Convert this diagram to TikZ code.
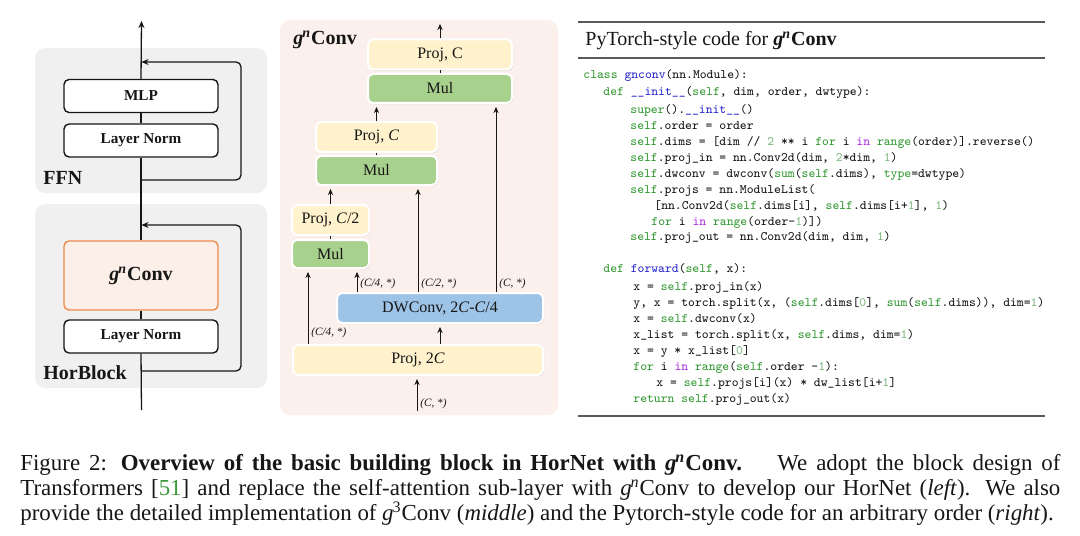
\documentclass[tikz,border=0pt]{standalone}
\usepackage{fontspec}
\setmainfont{Liberation Serif}
\usetikzlibrary{arrows.meta,positioning,calc,shadows}
\definecolor{ink}{HTML}{161616}
\definecolor{blockgray}{HTML}{F0F0F0}
\definecolor{convorange}{HTML}{EE8A4C}
\definecolor{convfill}{HTML}{FCEFE8}
\definecolor{panelpink}{HTML}{FBF0EB}
\definecolor{projyellow}{HTML}{FFF2CC}
\definecolor{mulgreen}{HTML}{A9D18E}
\definecolor{dwblue}{HTML}{9DC3E6}
\definecolor{rulegray}{HTML}{5A5A5A}
\definecolor{pykey}{HTML}{339933}
\definecolor{pyfunc}{HTML}{2A2ACC}
\definecolor{pyin}{HTML}{B030E0}
\definecolor{pynum}{HTML}{7FB87F}
\definecolor{citegreen}{HTML}{3C9A3C}
\newcommand{\gnconv}{\textit{g}\kern-0.05em\textsuperscript{\textit{n}}Conv}
\newcommand{\codekw}[1]{\textcolor{pykey}{#1}}
\newcommand{\codefn}[1]{\textcolor{pyfunc}{#1}}
\newcommand{\codein}[1]{\textcolor{pyin}{#1}}
\newcommand{\codenum}[1]{\textcolor{pynum}{#1}}

\begin{document}
\begin{tikzpicture}[
    x=0.5pt, y=-0.5pt,
    every node/.style={text=ink},
    blockbg/.style={fill=blockgray, rounded corners=5pt},
    layerbox/.style={draw=ink, fill=white, line width=0.7pt, rounded corners=2.5pt,
      minimum width=77pt, minimum height=16.5pt, inner sep=0pt,
      font=\fontsize{7.6}{9}\selectfont\bfseries},
    mainline/.style={draw=ink, line width=0.65pt},
    mainarrow/.style={mainline, -{Stealth[length=3.5pt,width=3pt]}},
    residual/.style={mainarrow, rounded corners=2.5pt},
    blocklabel/.style={anchor=west, inner sep=0pt, font=\fontsize{10}{12}\selectfont\bfseries},
    opbox/.style={draw=white, line width=1pt, rounded corners=2.5pt, inner sep=0pt,
      minimum height=15pt, font=\fontsize{8}{10}\selectfont,
      drop shadow={shadow xshift=0.5pt, shadow yshift=-0.6pt, opacity=0.3}},
    projbox/.style={opbox, fill=projyellow},
    mulbox/.style={opbox, fill=mulgreen},
    dwbox/.style={opbox, fill=dwblue},
    parrow/.style={draw=ink, line width=0.5pt, -{Stealth[length=3pt,width=2.6pt]}, shorten >=1.5pt},
    plink/.style={draw=ink, line width=0.5pt},
    shapelabel/.style={anchor=west, inner sep=0pt, font=\fontsize{5.6}{7}\selectfont\itshape},
    codeline/.style={anchor=west, inner sep=0pt, text height=4.6pt, text depth=1.3pt,
      font=\fontsize{6.45}{8}\selectfont\ttfamily},
    rule/.style={draw=rulegray},
    capline/.style={anchor=west, inner sep=0pt, font=\fontsize{11.45}{12.5}\selectfont}
  ]
  \useasboundingbox (0,0) rectangle (1080,535);

  % left: HorBlock
  \fill[blockbg] (35,48) rectangle (267,193);
  \fill[blockbg] (35,204) rectangle (267,388);
  \node[layerbox] (mlp) at (141,96) {MLP};
  \node[layerbox] (lnffn) at (141,140.5) {Layer Norm};
  \node[layerbox, draw=convorange, fill=convfill, minimum height=34.5pt,
    font=\fontsize{10}{12}\selectfont\bfseries] (gnc) at (141,275.5) {\gnconv};
  \node[layerbox] (lnhb) at (141,336.5) {Layer Norm};
  \node[blocklabel] (ffnlbl) at (43,178) {FFN};
  \node[blocklabel] (hblbl) at (43,373) {HorBlock};
  \coordinate (hbin) at (141.5,410);
  \coordinate (hbout) at (141.5,21);
  \coordinate (hbsplit) at (141.5,371);
  \coordinate (hbjoin) at (141.5,225);
  \coordinate (ffnsplit) at (141.5,180);
  \coordinate (ffnjoin) at (141.5,62);
  \draw[mainline] (hbin) -- (lnhb.south);
  \draw[mainline] (lnhb) -- (gnc);
  \draw[mainline] (gnc.north) -- (lnffn.south);
  \draw[mainline] (lnffn) -- (mlp);
  \draw[mainarrow] (mlp.north) -- (hbout);
  \draw[residual] (hbsplit) -- ++(99.5,0) |- (hbjoin);
  \draw[residual] (ffnsplit) -- ++(99.5,0) |- (ffnjoin);

  % middle: gnConv
  \fill[fill=panelpink, rounded corners=5pt] (280,20) rectangle (558,415);
  \node[blocklabel] (gnlbl) at (293,40) {\gnconv};
  \node[projbox, minimum width=72pt] (projc3) at (440,54.5) {Proj, C};
  \node[mulbox, minimum width=72pt, minimum height=14.5pt] (mul3) at (440,88.5) {Mul};
  \node[projbox, minimum width=60.5pt] (projc2) at (376.5,137) {Proj, \textit{C}};
  \node[mulbox, minimum width=60.5pt, minimum height=14.5pt] (mul2) at (376.5,170.5) {Mul};
  \node[projbox, minimum width=38.5pt] (projc1) at (330.5,220) {Proj, \textit{C}/2};
  \node[mulbox, minimum width=38.5pt, minimum height=14pt] (mul1) at (330.5,254) {Mul};
  \node[dwbox, minimum width=103pt] (dw) at (440,308) {DWConv, 2\textit{C}-\textit{C}/4};
  \node[projbox, minimum width=125pt] (pin) at (418,360) {Proj, 2\textit{C}};
  \coordinate (gin) at (417,411);
  \coordinate (gout) at (440,21);
  \coordinate (xa) at (308,0);
  \coordinate (xb) at (357,0);
  \coordinate (xc) at (418,0);
  \coordinate (xd) at (496,0);
  \draw[parrow] (gin) -- (gin |- pin.south);
  \draw[parrow] (pin.north -| dw) -- (dw.south);
  \draw[parrow] (pin.north -| xa) -- (mul1.south -| xa);
  \draw[parrow] (dw.north -| xb) -- (mul1.south -| xb);
  \draw[parrow] (dw.north -| xc) -- (mul2.south -| xc);
  \draw[parrow] (dw.north -| xd) -- (mul3.south -| xd);
  \draw[parrow] (projc1.north) -- (projc1.north |- mul2.south);
  \draw[parrow] (projc2.north) -- (projc2.north |- mul3.south);
  \draw[parrow] (projc3.north) -- (gout);
  \draw[plink] (mul1.north) -- (projc1.south);
  \draw[plink] (mul2.north) -- (projc2.south);
  \draw[plink] (mul3.north) -- (projc3.south);
  \node[shapelabel] (lblin) at (420,404) {(C, *)};
  \node[shapelabel] (lbla) at (311,333) {(C/4, *)};
  \node[shapelabel] (lblb) at (360,284) {(C/4, *)};
  \node[shapelabel] (lblc) at (421,284) {(C/2, *)};
  \node[shapelabel] (lbld) at (499,284) {(C, *)};

  % right: code
  \draw[rule, line width=0.8pt] (578,22) -- (1045,22);
  \draw[rule, line width=0.6pt] (578,58) -- (1045,58);
  \draw[rule, line width=0.8pt] (578,416) -- (1045,416);
  \node[anchor=west, inner sep=0pt, font=\fontsize{10}{12}\selectfont] (codetitle) at (585,41)
    {PyTorch-style code for \textbf{\gnconv}};
  \node[codeline] (c1) at (583,75) {\codekw{class} \codefn{gnconv}(nn.Module):};
  \node[codeline] (c2) at (603,92) {\codekw{def} \codefn{\_\_init\_\_}(\codekw{self}, dim, order, dwtype):};
  \node[codeline] (c3) at (630,110) {\codekw{super}().\codefn{\_\_init\_\_}()};
  \node[codeline] (c4) at (630,126) {\codekw{self}.order = order};
  \node[codeline] (c5) at (630,142) {\codekw{self}.dims = [dim // \codenum{2} ** i \codekw{for} i \codein{in} \codekw{range}(order)].reverse()};
  \node[codeline] (c6) at (630,158) {\codekw{self}.proj\_in = nn.Conv2d(dim, \codenum{2}*dim, \codenum{1})};
  \node[codeline] (c7) at (630,174) {\codekw{self}.dwconv = dwconv(\codekw{sum}(\codekw{self}.dims), \codekw{type}=dwtype)};
  \node[codeline] (c8) at (630,190) {\codekw{self}.projs = nn.ModuleList(};
  \node[codeline] (c9) at (654,206) {[nn.Conv2d(\codekw{self}.dims[i], \codekw{self}.dims[i+\codenum{1}], \codenum{1})};
  \node[codeline] (c10) at (651,222) {\codekw{for} i \codein{in} \codekw{range}(order-\codenum{1})])};
  \node[codeline] (c11) at (630,237) {\codekw{self}.proj\_out = nn.Conv2d(dim, dim, \codenum{1})};
  \node[codeline] (c12) at (603,269) {\codekw{def} \codefn{forward}(\codekw{self}, x):};
  \node[codeline] (c13) at (633,287) {x = \codekw{self}.proj\_in(x)};
  \node[codeline] (c14) at (633,303) {y, x = torch.split(x, (\codekw{self}.dims[\codenum{0}], \codekw{sum}(\codekw{self}.dims)), dim=\codenum{1})};
  \node[codeline] (c15) at (633,319) {x = \codekw{self}.dwconv(x)};
  \node[codeline] (c16) at (633,335) {x\_list = torch.split(x, \codekw{self}.dims, dim=\codenum{1})};
  \node[codeline] (c17) at (633,351) {x = y * x\_list[\codenum{0}]};
  \node[codeline] (c18) at (633,367) {\codekw{for} i \codein{in} \codekw{range}(\codekw{self}.order -\codenum{1}):};
  \node[codeline] (c19) at (656,383) {x = \codekw{self}.projs[i](x) * dw\_list[i+\codenum{1}]};
  \node[codeline] (c20) at (633,399) {\codekw{return} \codekw{self}.proj\_out(x)};

  % caption
  \node[capline] (cap1) at (20,465) {\makebox[520pt][s]{Figure 2: \textbf{Overview of the basic building block in HorNet with \gnconv.}\hspace{0.8em} We adopt the block design of}};
  \node[capline] (cap2) at (20,490) {\makebox[520pt][s]{Transformers [\textcolor{citegreen}{51}] and replace the self-attention sub-layer with \gnconv{} to develop our HorNet (\textit{left}). We also}};
  \node[capline] (cap3) at (20,514) {provide the detailed implementation of \textit{g}\kern-0.05em\textsuperscript{3}Conv (\textit{middle}) and the Pytorch-style code for an arbitrary order (\textit{right}).};
\end{tikzpicture}
\end{document}
